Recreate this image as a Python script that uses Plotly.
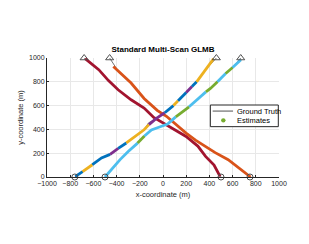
import plotly.graph_objects as go

# ---- colours (MATLAB default palette) ----
BLUE = "#0072BD"; ORANGE = "#D95319"; YELLOW = "#EDB120"; PURPLE = "#7E2F8E"
GREEN = "#77AC30"; LBLUE = "#4DBEEE"; RED = "#A2142F"; GT = "#505050"

# ---- estimated tracks (waypoints) and per-segment label colours ----
red_x = [492, 440, 367, 300, 199, 100, 4, -80, -163, -275, -387, -470, -554, -671]
red_y = [5, 100, 173, 260, 341, 400, 453, 500, 580, 649, 733, 810, 902, 995]
red_c = [RED] * 13

org_x = [755, 650, 562, 450, 367, 280, 199, 115, 30, -50, -163, -275, -380, -428]
org_y = [0, 80, 145, 205, 257, 310, 369, 440, 510, 560, 660, 790, 880, 929]
org_c = [ORANGE] * 13

t3_x = [-755, -693, -609, -530, -456, -386, -316, -240, -163, -121, -60, 15, 90, 130, 200, 250, 290, 367, 437]
t3_y = [5, 45, 103, 160, 190, 240, 286, 340, 397, 440, 490, 540, 600, 640, 710, 760, 800, 901, 995]
t3_c = [BLUE, YELLOW, BLUE, BLUE, PURPLE, BLUE, YELLOW, YELLOW, YELLOW, PURPLE, PURPLE,
        BLUE, YELLOW, BLUE, PURPLE, BLUE, YELLOW, YELLOW]

t4_x = [-500, -440, -370, -300, -219, -160, -100, -30, 40, 110, 160, 225, 282, 370, 409, 470, 540, 600, 672]
t4_y = [0, 70, 146, 215, 285, 345, 395, 420, 445, 505, 540, 590, 640, 715, 744, 800, 870, 920, 985]
t4_c = [LBLUE, LBLUE, LBLUE, LBLUE, GREEN, LBLUE, LBLUE, LBLUE, LBLUE, GREEN, GREEN, LBLUE,
        LBLUE, GREEN, GREEN, LBLUE, GREEN, LBLUE]

# ---- ground truth ----
gt1_x = [500, 440, 367, 300, 199, 100, 4, -80, -163, -275, -405, -470, -554, -680]
gt1_y = [0, 100, 173, 260, 341, 400, 453, 500, 580, 649, 745, 810, 902, 1000]
gt2_x = [750, 650, 562, 450, 367, 280, 199, 115, 30, -50, -163, -275, -380, -460]
gt2_y = [0, 80, 145, 205, 257, 310, 369, 440, 510, 560, 660, 790, 880, 1000]
gt3_x = [-760, -693, -609, -530, -456, -386, -316, -240, -163, -125, -60, 15, 90, 130, 200, 250, 290, 367, 460]
gt3_y = [0, 45, 103, 160, 190, 240, 286, 340, 397, 455, 490, 540, 600, 640, 710, 760, 800, 901, 1000]
gt4_x = [-500, -440, -370, -300, -219, -160, -100, -30, 40, 100, 160, 225, 282, 370, 409, 470, 540, 600, 670]
gt4_y = [0, 70, 146, 215, 285, 345, 395, 420, 450, 495, 540, 590, 640, 715, 744, 800, 870, 920, 1000]

start_x = [500, 750, -760, -500]
start_y = [0, 0, 0, 0]
end_x = [-680, -460, 460, 670]
end_y = [1000, 1000, 1000, 1000]

legend_labels = ["Ground Truth", "Estimates"]

fig = go.Figure()

# ground-truth lines
for gx, gy in [(gt1_x, gt1_y), (gt2_x, gt2_y), (gt3_x, gt3_y), (gt4_x, gt4_y)]:
    fig.add_trace(go.Scatter(x=gx, y=gy, mode="lines", line=dict(color=GT, width=0.8),
                             showlegend=False, hoverinfo="skip"))

# estimates, grouped by consecutive label colour
for tx, ty, tc in [(red_x, red_y, red_c), (org_x, org_y, org_c), (t3_x, t3_y, t3_c), (t4_x, t4_y, t4_c)]:
    i = 0
    n = len(tc)
    while i < n:
        j = i
        while j + 1 < n and tc[j + 1] == tc[i]:
            j += 1
        fig.add_trace(go.Scatter(x=tx[i:j + 2], y=ty[i:j + 2], mode="lines",
                                 line=dict(color=tc[i], width=2.8), showlegend=False,
                                 hoverinfo="skip"))
        i = j + 1

# start / end markers
fig.add_trace(go.Scatter(x=start_x, y=start_y, mode="markers", cliponaxis=False,
                         marker=dict(symbol="circle-open", size=6, color=GT, line=dict(width=1)),
                         showlegend=False))
fig.add_trace(go.Scatter(x=end_x, y=end_y, mode="markers", cliponaxis=False,
                         marker=dict(symbol="triangle-up-open", size=7, color=GT, line=dict(width=1)),
                         showlegend=False))

# ---- hand-drawn legend (MATLAB-style compact box) ----
shapes = [
    dict(type="rect", xref="x", yref="y", x0=408, x1=994, y0=423, y1=605,
         line=dict(color="#262626", width=1), fillcolor="white", layer="above"),
    dict(type="line", xref="x", yref="y", x0=428, x1=604, y0=554, y1=554,
         line=dict(color=GT, width=1), layer="above"),
    dict(type="circle", xref="x", yref="y", xsizemode="pixel", ysizemode="pixel",
         xanchor=520, yanchor=476, x0=-2.2, x1=2.2, y0=-2.2, y1=2.2,
         line=dict(color=GREEN, width=0), fillcolor=GREEN, layer="above"),
]
annotations = [
    dict(text=legend_labels[0], x=618, y=554, xref="x", yref="y", xanchor="left",
         yanchor="middle", showarrow=False, font=dict(size=7.5, color="#000000")),
    dict(text=legend_labels[1], x=618, y=476, xref="x", yref="y", xanchor="left",
         yanchor="middle", showarrow=False, font=dict(size=7.5, color="#000000")),
]

axis_common = dict(showgrid=True, gridcolor="#e8e8e8", gridwidth=1, zeroline=False,
                   showline=True, linecolor="#262626", linewidth=1, ticks="inside",
                   ticklen=2, tickcolor="#262626", tickfont=dict(size=7, color="#262626"),
                   mirror=False)

# page body has an 8px default margin, so the figure is sized/offset to compensate
fig.update_layout(
    width=301, height=236,
    margin=dict(l=32, r=30, t=50, b=67),
    paper_bgcolor="white", plot_bgcolor="white",
    font=dict(family="Liberation Sans, Arial, sans-serif", color="#262626"),
    title=dict(text="<b>Standard Multi-Scan GLMB</b>", x=0.5, xref="paper",
               y=1 - 41 / 236, yref="container", yanchor="middle",
               font=dict(size=8, color="#000000")),
    xaxis=dict(range=[-1000, 1000], tickvals=list(range(-1000, 1001, 200)),
               title=dict(text="x-coordinate (m)", font=dict(size=7.5), standoff=5),
               **axis_common),
    yaxis=dict(range=[0, 1000], tickvals=list(range(0, 1001, 200)),
               title=dict(text="y-coordinate (m)", font=dict(size=7.5), standoff=4),
               **axis_common),
    shapes=shapes,
    annotations=annotations,
    showlegend=False,
)

fig.write_html("out.html")
